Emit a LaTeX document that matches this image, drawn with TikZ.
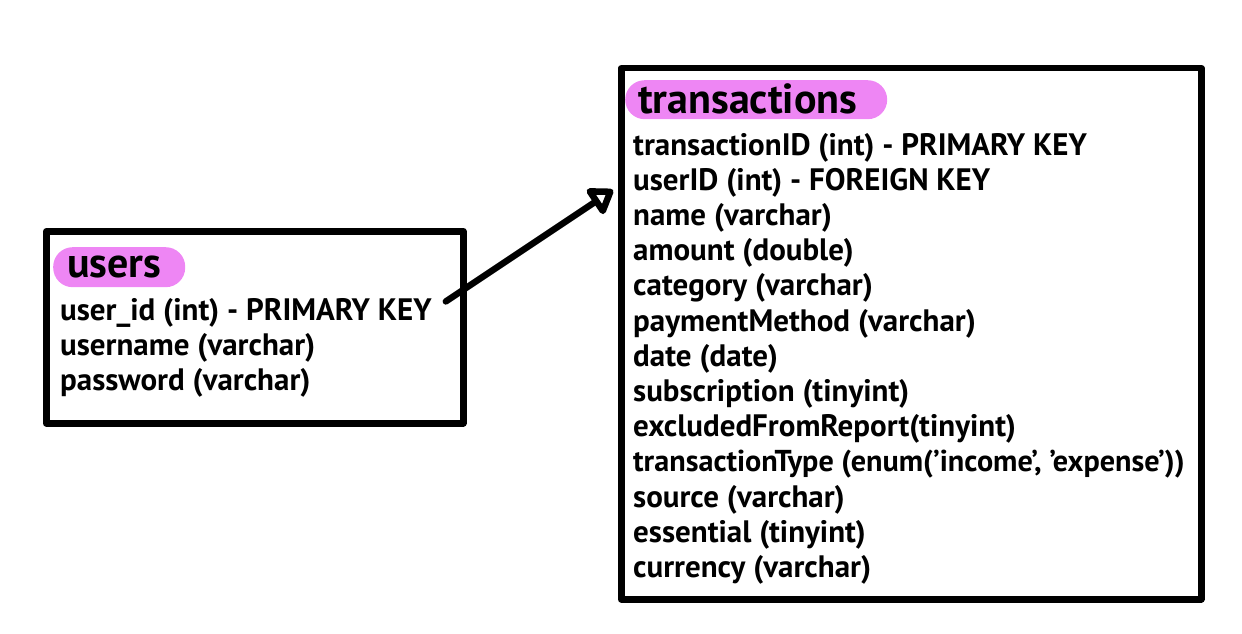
\documentclass[tikz,border=0pt]{standalone}
\usepackage{fontspec}
\setmainfont{PT Sans}
\usetikzlibrary{arrows.meta}
\definecolor{pill}{RGB}{238,134,244}
\tikzset{
  tbl/.style={draw=black, line width=6.5pt, line join=round, rectangle, inner sep=0pt, anchor=north west},
  pillbox/.style={fill=pill, rounded corners=19.5pt, rectangle, inner sep=0pt, anchor=north west},
  title/.style={font=\fontsize{42}{48}\selectfont\bfseries, inner sep=0pt, anchor=base west},
  row/.style={font=\fontsize{31}{36}\selectfont\bfseries, inner sep=0pt, anchor=base west},
  rel/.style={line width=6.5pt, line cap=round, line join=round, -{Triangle[open, round, length=26pt, width=34pt]}}
}
\begin{document}
\begin{tikzpicture}[x=1pt, y=-1pt]
\useasboundingbox (0,0) rectangle (1242,634);
% users table
\node[tbl, minimum width=417pt, minimum height=192pt] (users) at (43,228) {};
\node[pillbox, minimum width=132pt, minimum height=40pt] (upill) at (53,247) {};
\node[title] (utitle) at (67,277) {users};
\node[row] (uid) at (60,320) {user\_id (int) - PRIMARY KEY};
\node[row] (uname) at (60,355) {username (varchar)};
\node[row] (upass) at (60,390) {password (varchar)};
% transactions table
\node[tbl, minimum width=580pt, minimum height=531pt] (tx) at (618,65) {};
\node[pillbox, minimum width=262pt, minimum height=39pt] (tpill) at (625,80) {};
\node[title] (ttitle) at (638,113) {transactions};
\node[row] (t1) at (633,155) {transactionID (int) - PRIMARY KEY};
\node[row] (t2) at (633,190.2) {userID (int) - FOREIGN KEY};
\node[row] (t3) at (633,225.4) {name (varchar)};
\node[row] (t4) at (633,260.6) {amount (double)};
\node[row] (t5) at (633,295.8) {category (varchar)};
\node[row] (t6) at (633,331) {paymentMethod (varchar)};
\node[row] (t7) at (633,366.2) {date (date)};
\node[row] (t8) at (633,401.4) {subscription (tinyint)};
\node[row] (t9) at (633,436.6) {excludedFromReport(tinyint)};
\node[row, font=\fontsize{30.2}{36}\selectfont\bfseries] (t10) at (633,471.8) {transactionType (enum('income', 'expense'))};
\node[row] (t11) at (633,507) {source (varchar)};
\node[row] (t12) at (633,542.2) {essential (tinyint)};
\node[row] (t13) at (633,577.4) {currency (varchar)};
% relation
\coordinate (src) at ([shift={(14,-11)}]uid.east);
\coordinate (tip) at (613,190);
\draw[rel] (src) -- (tip);
\end{tikzpicture}
\end{document}
